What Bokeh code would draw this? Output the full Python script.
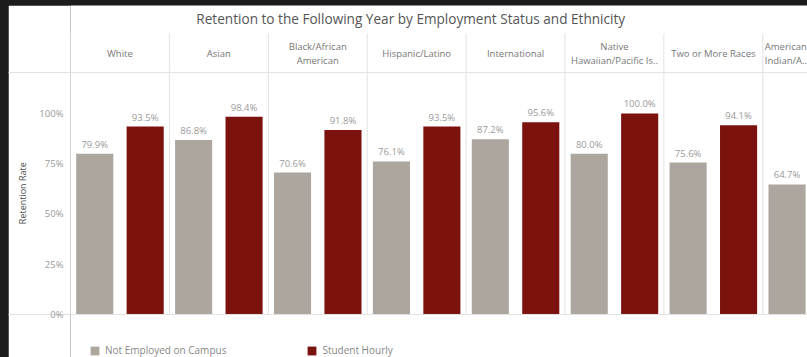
from bokeh.plotting import figure
from bokeh.models import ColumnDataSource, FixedTicker, PrintfTickFormatter, Span, Label
from bokeh.layouts import column
from bokeh.embed import file_html
from bokeh.resources import INLINE
from bokeh.core.properties import value

# ---- data ----
title_text = "Retention to the Following Year by Employment Status and Ethnicity"
y_title = "Retention Rate"
categories = ["White", "Asian", "Black/African\nAmerican", "Hispanic/Latino",
              "International", "Native\nHawaiian/Pacific Is..", "Two or More Races",
              "American\nIndian/A.."]
not_employed = [79.9, 86.8, 70.6, 76.1, 87.2, 80.0, 75.6, 64.7]
student_hourly = [93.5, 98.4, 91.8, 93.5, 95.6, 100.0, 94.1, None]
series_names = ["Not Employed on Campus", "Student Hourly"]
series_colors = ["#aca69f", "#7b120d"]
y_ticks = [0, 25, 50, 75, 100]

# ---- layout constants ----
FONT = "Open Sans"
Y_BOTTOM = -21.4     # legend strip below the baseline
Y_FRAME_TOP = 153.7  # top of the drawing area (title strip included)
Y_TOP = 139.8        # top of the header row
HEADER_LINE = 120.4  # line under the header row
HEADER_MID = 129.9
TITLE_Y = 147.3
TITLE_X = 3.44
OFFSET = 0.255
BAR_W = 0.375
SEP_COLOR = "#e2e2e2"

p = figure(width=799, height=352, x_range=(0, 7.452), y_range=(Y_BOTTOM, Y_FRAME_TOP),
           output_backend="svg", toolbar_location=None,
           min_border_left=62, min_border_right=0, min_border_top=0, min_border_bottom=0)
p.margin = (5, 0, 0, 8)
p.outline_line_color = None
p.background_fill_color = "white"
p.border_fill_color = "white"

p.xgrid.visible = False
p.ygrid.visible = False
p.xaxis.visible = False

# title
p.add_layout(Label(x=TITLE_X, y=TITLE_Y, text=title_text, text_align="center",
                   text_baseline="middle", text_font=FONT, text_font_size="13.6px",
                   text_color="#555555"))

# vertical separators between categories (from the baseline to the top of the header)
n = len(categories)
sep_x = list(range(n + 1))
p.segment(x0=sep_x, y0=[0] * len(sep_x), x1=sep_x, y1=[Y_TOP] * len(sep_x),
          line_color=SEP_COLOR, line_width=1)

for loc in (0, HEADER_LINE):
    p.add_layout(Span(location=loc, dimension="width", line_color=SEP_COLOR, line_width=1))

# y axis
yax = p.yaxis[0]
yax.ticker = FixedTicker(ticks=y_ticks, minor_ticks=[0, HEADER_LINE])
yax.formatter = PrintfTickFormatter(format="%d%%")
yax.bounds = (0, HEADER_LINE + 0.1)
yax.axis_line_color = None
yax.major_tick_line_color = None
yax.major_tick_out = 0
yax.major_tick_in = 0
yax.minor_tick_in = 0
yax.minor_tick_out = 62
yax.minor_tick_line_color = SEP_COLOR
yax.major_label_standoff = -55
yax.major_label_text_font = FONT
yax.major_label_text_font_size = "9.5px"
yax.major_label_text_color = "#9a9a9a"
# trailing no-break spaces move the centred label down to the middle of the bar pane
yax.axis_label = y_title + "\u00a0" * 10
yax.axis_label_text_font = FONT
yax.axis_label_text_font_size = "9px"
yax.axis_label_text_font_style = "normal"
yax.axis_label_text_color = "#4d4d4d"
yax.axis_label_standoff = 7

# bars
for k, (vals, name, col) in enumerate(zip([not_employed, student_hourly], series_names, series_colors)):
    xs, tops, labels = [], [], []
    for i, v in enumerate(vals):
        if v is None:
            continue
        xs.append(i + 0.5 + (OFFSET if k == 1 else -OFFSET))
        tops.append(v)
        labels.append(f"{v:.1f}%")
    src = ColumnDataSource(dict(x=xs, top=tops, label=labels))
    p.vbar(x="x", top="top", bottom=0, width=BAR_W, source=src, fill_color=col,
           line_color=None, legend_label=name)
    p.text(x="x", y="top", text="label", source=src, text_align="center",
           text_baseline="bottom", y_offset=-3, text_font=value(FONT),
           text_font_size="9.5px", text_color="#9a9a9a")

# header labels
hx, halign = [], []
for i in range(n):
    if i == n - 1:
        hx.append(i + 0.02)
        halign.append("left")
    else:
        hx.append(i + 0.5)
        halign.append("center")
hsrc = ColumnDataSource(dict(x=hx, y=[HEADER_MID] * n, text=categories, align=halign))
p.text(x="x", y="y", text="text", text_align="align", source=hsrc,
       text_baseline="middle", text_font=value(FONT), text_font_size="9.5px",
       text_color="#777777", text_line_height=1.05)

# legend, in the strip under the baseline
lg = p.legend[0]
lg.orientation = "horizontal"
lg.location = (19, 0)
lg.glyph_width = 11
lg.glyph_height = 11
lg.label_height = 11
lg.label_standoff = 5
lg.spacing = 80
lg.padding = 0
lg.margin = 0
lg.border_line_color = None
lg.background_fill_alpha = 0
lg.label_text_font = FONT
lg.label_text_font_size = "10px"
lg.label_text_color = "#888888"

layout = column(p, width=807, height=357,
                styles={"background-color": "#1c1c1c"})

open("out.html", "w").write(file_html(layout, INLINE))
